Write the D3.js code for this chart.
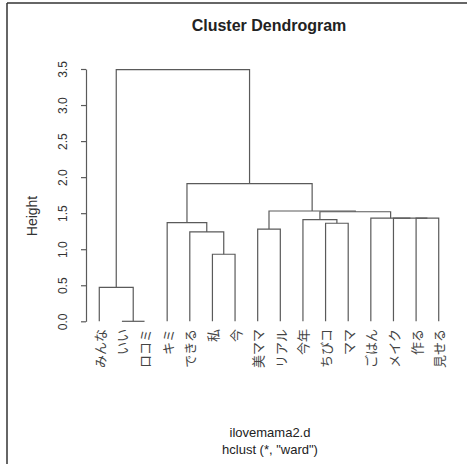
<!DOCTYPE html>
<html><head><meta charset="utf-8">
<script src="https://cdn.jsdelivr.net/npm/d3@7"></script>
<style>
html,body{margin:0;padding:0;background:#fff;}
svg{display:block;}
</style></head>
<body>
<svg id="chart" width="467" height="464"></svg>
<script>
// Leaf labels in plotted order
const leaves = ["みんな","いい","ロコミ","キミ","できる","私","今","美ママ","リアル","今年","ちびコ","ママ","ごはん","メイク","作る","見せる"];
// R-style merge matrix: negative = leaf (1-based), positive = earlier merge step
const mergeLeft  = [-2, -1, -6, -5, -4, -8, -11, -10, -15, -14, -13, 8, 6, 5, 2];
const mergeRight = [-3,  1, -7,  3,  4, -9, -12,   7, -16,   9,  10, 11, 12, 13, 14];
const mergeHeight = [0.0, 0.47, 0.93, 1.24, 1.37, 1.28, 1.36, 1.41, 1.43, 1.43, 1.43, 1.52, 1.53, 1.91, 3.49];
const yTicks = [0.0, 0.5, 1.0, 1.5, 2.0, 2.5, 3.0, 3.5];
const titleText = "Cluster Dendrogram";
const yLabel = "Height";
const subLines = ["ilovemama2.d", "hclust (*, \"ward\")"];

const svg = d3.select("#chart");
const lineColor = "#5a5a5a";
const textColor = "#333";

// frame
svg.append("line").attr("x1",7).attr("y1",3).attr("x2",467).attr("y2",3).attr("stroke","#333").attr("stroke-width",1.5);
svg.append("line").attr("x1",7).attr("y1",3).attr("x2",7).attr("y2",464).attr("stroke","#333").attr("stroke-width",1.5);

const x = d3.scaleLinear().domain([0.4, 16.6]).range([85.7, 452.3]);
const y = d3.scaleLinear().domain([0, 3.5]).range([321.3, 69]);

// build tree from merge matrix
const nodes = [];
function getNode(idx){
  if (idx < 0) return {leaf:true, name:leaves[-idx-1], pos:-idx, h:0};
  return nodes[idx-1];
}
for (let i=0;i<mergeHeight.length;i++){
  const a = getNode(mergeLeft[i]), b = getNode(mergeRight[i]);
  nodes.push({leaf:false, children:[a,b], pos:(a.pos+b.pos)/2, h:mergeHeight[i]});
}
const root = d3.hierarchy(nodes[nodes.length-1], d => d.children);

const g = svg.append("g").attr("fill","none").attr("stroke",lineColor).attr("stroke-width",1.2);
root.each(n => {
  if (!n.children) return;
  const py = y(n.data.h);
  const [c1,c2] = n.children;
  g.append("path").attr("d",
    `M${x(c1.data.pos)},${y(c1.data.h)}V${py}H${x(c2.data.pos)}V${y(c2.data.h)}`);
});

// leaf labels
svg.append("g").selectAll("text").data(root.leaves()).join("text")
  .attr("transform", d => `translate(${x(d.data.pos)},329) rotate(-90)`)
  .attr("text-anchor","end").attr("dominant-baseline","central")
  .attr("font-family","'Noto Sans CJK JP', sans-serif").attr("font-size",13)
  .attr("fill","#444").text(d => d.data.name);

// y axis
const ax = svg.append("g").attr("transform","translate(86,0)")
  .call(d3.axisLeft(y).tickValues(yTicks).tickSize(5).tickSizeOuter(0).tickFormat(d3.format(".1f")));
ax.select(".domain").attr("stroke",lineColor).attr("stroke-width",1.2);
ax.selectAll(".tick line").attr("stroke",lineColor).attr("stroke-width",1.2);
ax.selectAll(".tick text")
  .attr("x",0).attr("y",0).attr("dy",null)
  .attr("transform","translate(-23,0) rotate(-90)")
  .attr("text-anchor","middle").attr("dominant-baseline","central")
  .attr("font-family","'Liberation Sans', Arial, sans-serif").attr("font-size",12).attr("fill",textColor);

// title
svg.append("text").attr("x",269).attr("y",31).attr("text-anchor","middle")
  .attr("font-family","'Liberation Sans', Arial, sans-serif").attr("font-weight","bold")
  .attr("font-size",16).attr("fill","#222").text(titleText);

// y label
svg.append("text").attr("transform","translate(32,216) rotate(-90)")
  .attr("text-anchor","middle").attr("dominant-baseline","central")
  .attr("font-family","'Liberation Sans', Arial, sans-serif").attr("font-size",14)
  .attr("fill",textColor).text(yLabel);

// subtitle lines
svg.append("g").selectAll("text").data(subLines).join("text")
  .attr("x",270).attr("y",(d,i)=>437+i*17).attr("text-anchor","middle")
  .attr("font-family","'Liberation Sans', Arial, sans-serif").attr("font-size",13)
  .attr("fill","#222").text(d=>d);
</script>
</body></html>
